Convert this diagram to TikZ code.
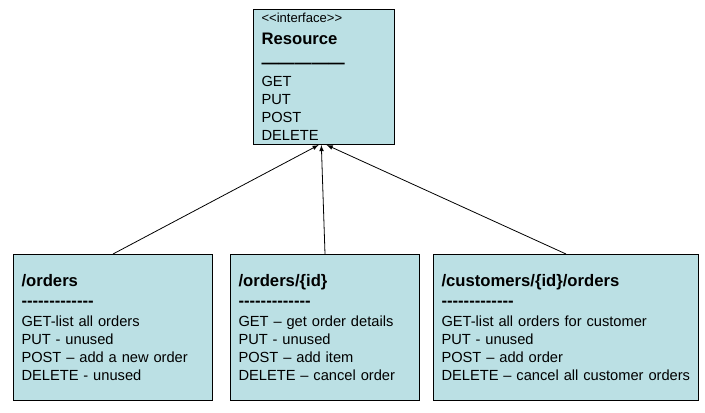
\documentclass[tikz,border=0pt]{standalone}
\usepackage{fontspec}
\setmainfont{Liberation Sans}
\usepackage{tikz}
\usetikzlibrary{arrows, positioning, calc}
\definecolor{classBoxBg}{RGB}{187, 224, 228}
\tikzstyle{arrow} = [line width=0.6pt,->,>=latex]
\tikzstyle{classbox} = [rectangle, draw=black, line width=0.75pt, fill=classBoxBg, text=black, align=left, inner xsep=6pt, inner ysep=0pt, font=\fontsize{11}{13.5}\selectfont]
\tikzstyle{resbox} = [minimum height=109.5pt]
\newcommand{\stereotype}[1]{\mbox{<}\mbox{<}#1\mbox{>}\mbox{>}}
\newcommand{\restitle}[1]{{\fontsize{12.5}{15}\selectfont\bfseries #1}}
\newcommand{\dashrow}{{\fontsize{12.5}{15}\selectfont\bfseries\foreach \k in {1,...,13}{\mbox{-}}}}

\begin{document}
\begin{tikzpicture}

\path [use as bounding box, fill=white] (0,0) rectangle (528.75pt,-309.75pt);

\node (resource) [classbox, text width=93.75pt, minimum height=101.25pt, anchor=north west] at(189.75pt,-6.75pt) {%
{\fontsize{9.8}{11}\selectfont\stereotype{interface}}\\[3pt]
\restitle{Resource}\\[4.3pt]
{\fontsize{12.5}{15}\selectfont\bfseries\textemdash\textemdash\textemdash\textemdash\textemdash}\\[0.4pt]
GET\\
PUT\\
POST\\
DELETE};

\node (orders) [classbox, resbox, text width=137.25pt, anchor=north west] at(9.75pt,-190.5pt) {%
\restitle{/orders}\\[1.5pt]
\dashrow\\[1pt]
GET-list all orders\\
PUT - unused\\
POST -- add a new order\\
DELETE - unused};
\node (orderid) [classbox, resbox, text width=129.75pt, anchor=north west, xshift=12.75pt] at(orders.north east) {%
\restitle{/orders/\{id\}}\\[1.5pt]
\dashrow\\[1pt]
GET -- get order details\\
PUT - unused\\
POST -- add item\\
DELETE -- cancel order};
\node (customers) [classbox, resbox, text width=186.75pt, anchor=north west, xshift=9.75pt] at(orderid.north east) {%
\restitle{/customers/\{id\}/orders}\\[1.5pt]
\dashrow\\[1pt]
GET-list all orders for customer\\
PUT - unused\\
POST -- add order\\
DELETE -- cancel all customer orders};

\draw [arrow] (orders.north) -- ($(resource.south) + (-4pt, 0)$);
\draw [arrow] (orderid.north) -- ($(resource.south) + (-2pt, 0)$);
\draw [arrow] (customers.north) -- ($(resource.south) + (2pt, 0)$);

\end{tikzpicture}
\end{document}
